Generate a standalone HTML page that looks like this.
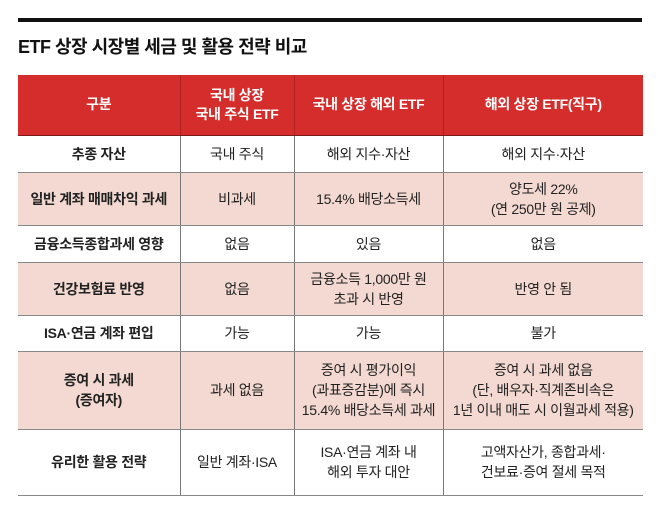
<!DOCTYPE html>
<html><head><meta charset="utf-8"><style>
body{margin:0;width:658px;height:514px;background:#fff;position:relative;overflow:hidden;font-family:"Liberation Sans","Noto Sans CJK KR",sans-serif;color:#222}
#topline{position:absolute;left:18px;top:18px;width:624px;height:4px;background:#111}
#title{position:absolute;left:18px;top:33px;font-size:18px;font-weight:bold;letter-spacing:-0.5px;color:#111}
table{position:absolute;left:18px;top:75px;width:625px;border-collapse:collapse;table-layout:fixed}
td,th{text-align:center;font-size:14px;line-height:20px;padding:0;border-left:1.5px solid #777;border-bottom:1.5px solid #888;letter-spacing:-0.3px}
td:first-child,th:first-child{border-left:none}
th{background:#d42d2b;color:#fff;font-weight:bold;border-left-color:#b02020;border-bottom:1.5px solid #7a1a1a;line-height:19px}
td:first-child{font-weight:bold}
tr.p td{background:#f3d9d1}
</style></head><body>
<div id="topline"></div>
<div id="title">ETF 상장 시장별 세금 및 활용 전략 비교</div>
<table>
<colgroup><col style="width:162px"><col style="width:114px"><col style="width:149px"><col style="width:200px"></colgroup>
<tr style="height:60px"><th>구분</th><th>국내 상장<br>국내 주식 ETF</th><th>국내 상장 해외 ETF</th><th>해외 상장 ETF(직구)</th></tr>
<tr style="height:37px"><td>추종 자산</td><td>국내 주식</td><td>해외 지수·자산</td><td>해외 지수·자산</td></tr>
<tr class="p" style="height:53px"><td>일반 계좌 매매차익 과세</td><td>비과세</td><td>15.4% 배당소득세</td><td>양도세 22%<br>(연 250만 원 공제)</td></tr>
<tr style="height:37px"><td>금융소득종합과세 영향</td><td>없음</td><td>있음</td><td>없음</td></tr>
<tr class="p" style="height:53px"><td>건강보험료 반영</td><td>없음</td><td>금융소득 1,000만 원<br>초과 시 반영</td><td>반영 안 됨</td></tr>
<tr style="height:36px"><td>ISA·연금 계좌 편입</td><td>가능</td><td>가능</td><td>불가</td></tr>
<tr class="p" style="height:78px"><td>증여 시 과세<br>(증여자)</td><td>과세 없음</td><td>증여 시 평가이익<br>(과표증감분)에 즉시<br>15.4% 배당소득세 과세</td><td>증여 시 과세 없음<br>(단, 배우자·직계존비속은<br>1년 이내 매도 시 이월과세 적용)</td></tr>
<tr style="height:66px"><td>유리한 활용 전략</td><td>일반 계좌·ISA</td><td>ISA·연금 계좌 내<br>해외 투자 대안</td><td>고액자산가, 종합과세·<br>건보료·증여 절세 목적</td></tr>
</table>
</body></html>
